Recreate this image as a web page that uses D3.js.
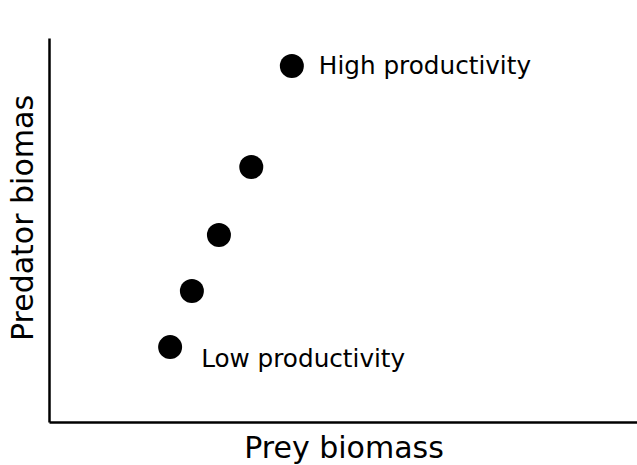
<!DOCTYPE html>
<html>
<head>
<meta charset="utf-8">
<script src="https://cdn.jsdelivr.net/npm/d3@7"></script>
<style>
  body { margin: 0; background: #fff; }
  text { font-family: "DejaVu Sans", sans-serif; fill: #000; }
</style>
</head>
<body>
<div id="chart"></div>
<script>
    // prey vs predator biomass along a productivity gradient
    var prey = [2.06, 2.43, 2.89, 3.44, 4.13];
    var predator = [1.95, 3.41, 4.87, 6.64, 9.27];
    var pointLabels = ["Low productivity", "", "", "", "High productivity"];

    var width = 637, height = 465;
    var mLeft = 49, mRight = 637, mTop = 38, mBottom = 422;

    var svg = d3.select("#chart")
                .append("svg")
                .attr("width", width)
                .attr("height", height);

    var x = d3.scaleLinear().domain([0, 10]).range([mLeft, mRight]);
    var y = d3.scaleLinear().domain([0, 10]).range([mBottom, mTop]);

    // axes with no ticks, just the lines
    svg.append("g")
        .attr("transform", "translate(0," + mBottom + ")")
        .call(d3.axisBottom(x).tickValues([]).tickSizeOuter(0))
        .select(".domain").attr("stroke-width", 2.5);
    svg.append("g")
        .attr("transform", "translate(" + mLeft + ",0)")
        .call(d3.axisLeft(y).tickValues([]).tickSizeOuter(0))
        .select(".domain").attr("stroke-width", 2.5);

    var pts = prey.map(function(d, i){ return {x: d, y: predator[i], label: pointLabels[i]}; });

    svg.selectAll("circle")
        .data(pts)
        .enter()
        .append("circle")
            .attr("cx", function(d){ return x(d.x); })
            .attr("cy", function(d){ return y(d.y); })
            .attr("r", 12)
            .style("fill", "#000");

    // the first label sits a bit lower, right of the point
    svg.selectAll(".ptLabel")
        .data(pts.filter(function(d){ return d.label; }))
        .enter()
        .append("text")
            .attr("class", "ptLabel")
            .attr("x", function(d, i){ return x(d.x) + (i == 0 ? 31 : 27); })
            .attr("y", function(d, i){ return y(d.y) + (i == 0 ? 20 : 8); })
            .style("font-size", "24.7px")
            .text(function(d){ return d.label; });

    svg.append("text")
        .attr("x", 344)
        .attr("y", 458)
        .attr("text-anchor", "middle")
        .style("font-size", "30px")
        .text("Prey biomass");

    svg.append("text")
        .attr("transform", "translate(33,218) rotate(-90)")
        .attr("text-anchor", "middle")
        .style("font-size", "30px")
        .text("Predator biomas");
</script>
</body>
</html>
